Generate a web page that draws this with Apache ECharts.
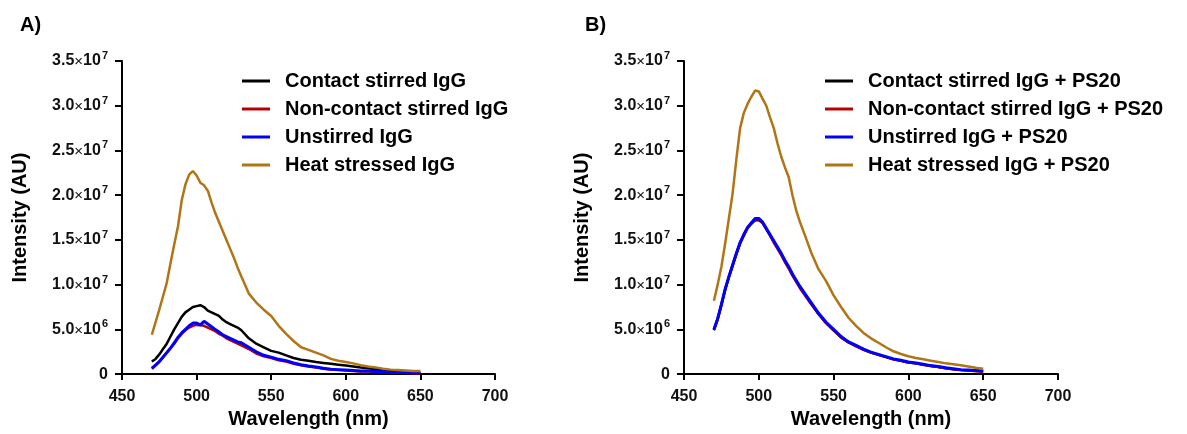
<!DOCTYPE html>
<html>
<head>
<meta charset="utf-8">
<script src="https://cdn.jsdelivr.net/npm/echarts@6/dist/echarts.min.js"></script>
<style>
html,body{margin:0;padding:0;background:#fff;}
#chart{width:1187px;height:434px;}
</style>
</head>
<body>
<div id="chart"></div>
<script>
// Wavelength (nm)
const wavelength = [470,472.5,475,477.5,480,482.5,485,487.5,490,492.5,495,497.5,500,502.5,505,507.5,510,512.5,515,517.5,520,522.5,525,527.5,530,
  535,540,545,550,555,560,565,570,575,580,585,590,595,600,605,610,615,620,625,630,635,640,645,650];

// Panel A (values in units of 1e7)
const contactA = [0.14,0.17,0.22,0.28,0.34,0.42,0.50,0.57,0.64,0.69,0.72,0.75,0.76,0.77,0.75,0.71,0.69,0.67,0.65,0.61,0.58,0.56,0.54,0.52,0.49,
  0.40,0.34,0.30,0.26,0.24,0.21,0.18,0.16,0.15,0.135,0.125,0.115,0.105,0.095,0.085,0.075,0.065,0.055,0.045,0.04,0.035,0.025,0.02,0.015];
const nonContactA = [0.07,0.10,0.14,0.19,0.24,0.29,0.34,0.40,0.45,0.49,0.52,0.54,0.55,0.545,0.54,0.52,0.50,0.48,0.45,0.43,0.40,0.38,0.36,0.34,0.32,
  0.28,0.23,0.20,0.18,0.155,0.14,0.115,0.10,0.085,0.075,0.06,0.05,0.045,0.04,0.035,0.03,0.03,0.025,0.02,0.02,0.015,0.015,0.01,0.01];
const unstirredA = [0.06,0.10,0.14,0.19,0.24,0.29,0.35,0.41,0.46,0.50,0.54,0.57,0.57,0.55,0.59,0.56,0.53,0.50,0.47,0.44,0.42,0.40,0.38,0.36,0.35,
  0.30,0.25,0.21,0.19,0.165,0.15,0.125,0.105,0.09,0.08,0.065,0.055,0.05,0.045,0.04,0.035,0.035,0.03,0.025,0.02,0.02,0.015,0.015,0.015];
const heatA = [0.44,0.58,0.72,0.87,1.02,1.24,1.45,1.65,1.94,2.12,2.23,2.27,2.22,2.14,2.11,2.05,1.92,1.80,1.70,1.60,1.50,1.40,1.30,1.19,1.09,
  0.90,0.80,0.72,0.65,0.54,0.45,0.37,0.30,0.27,0.24,0.21,0.17,0.15,0.135,0.12,0.10,0.085,0.075,0.06,0.05,0.045,0.04,0.035,0.035];

// Panel B (values in units of 1e7)
const contactB = [0.49,0.61,0.77,0.94,1.08,1.21,1.34,1.46,1.55,1.63,1.68,1.72,1.72,1.69,1.62,1.55,1.48,1.41,1.34,1.26,1.19,1.11,1.04,0.97,0.91,
  0.79,0.67,0.57,0.49,0.41,0.355,0.315,0.275,0.24,0.215,0.19,0.165,0.15,0.13,0.12,0.105,0.09,0.08,0.065,0.055,0.045,0.04,0.035,0.03];
const nonContactB = [0.50,0.62,0.78,0.95,1.09,1.22,1.35,1.47,1.56,1.64,1.69,1.73,1.73,1.69,1.62,1.55,1.47,1.40,1.33,1.25,1.18,1.10,1.03,0.96,0.90,
  0.78,0.67,0.57,0.49,0.41,0.355,0.31,0.27,0.24,0.215,0.19,0.165,0.15,0.13,0.12,0.105,0.09,0.08,0.065,0.055,0.045,0.04,0.035,0.03];
const unstirredB = [0.50,0.62,0.78,0.95,1.09,1.22,1.35,1.47,1.56,1.64,1.69,1.74,1.74,1.70,1.63,1.56,1.49,1.42,1.35,1.27,1.20,1.12,1.05,0.98,0.92,
  0.80,0.68,0.58,0.50,0.42,0.36,0.32,0.28,0.245,0.22,0.195,0.17,0.155,0.135,0.125,0.11,0.095,0.085,0.07,0.06,0.05,0.045,0.04,0.035];
const heatB = [0.82,1.00,1.20,1.46,1.74,2.02,2.40,2.75,2.92,3.02,3.10,3.17,3.16,3.08,3.00,2.87,2.75,2.58,2.43,2.31,2.20,2.00,1.83,1.70,1.59,
  1.36,1.17,1.04,0.88,0.75,0.63,0.54,0.46,0.40,0.35,0.30,0.255,0.225,0.20,0.18,0.165,0.15,0.135,0.12,0.11,0.10,0.085,0.07,0.06];

const namesA = ['Contact stirred IgG','Non-contact stirred IgG','Unstirred IgG','Heat stressed IgG'];
const namesB = ['Contact stirred IgG + PS20','Non-contact stirred IgG + PS20','Unstirred IgG + PS20','Heat stressed IgG + PS20'];
const colors = ['#000000','#B80000','#0000FF','#B07515'];

// Y tick labels: mantissa and exponent
const yTickMantissa = ['0','5.0','1.0','1.5','2.0','2.5','3.0','3.5'];
const yTickExp = ['','6','7','7','7','7','7','7'];
const xTicks = [450,500,550,600,650,700];

const FONT = '"Liberation Sans", Arial, sans-serif';
const SCALE = 1e7;

function pairs(arr){ return wavelength.map((w,i)=>[w, arr[i]*SCALE]); }

function yFmt(v){
  const i = Math.round(v/5e6);
  if (yTickMantissa[i] === '0') return '{m|0}';
  return '{m|' + yTickMantissa[i] + '}{x|×}{m|10}{e|' + yTickExp[i] + '}';
}

const yRich = {
  m:{fontFamily:FONT,fontWeight:'bold',fontSize:16,color:'#111'},
  x:{fontFamily:FONT,fontSize:15,color:'#111',padding:[2,0,0,0]},
  e:{fontFamily:FONT,fontWeight:'bold',fontSize:11,color:'#111',padding:[0,0,10,1]}
};

function xAxisCfg(idx){
  return {
    type:'value', gridIndex:idx, min:450, max:700, interval:50,
    name:'Wavelength (nm)', nameLocation:'middle', nameGap:26,
    nameTextStyle:{fontFamily:FONT,fontWeight:'bold',fontSize:20,color:'#000'},
    axisLine:{lineStyle:{color:'#000',width:2}},
    axisTick:{show:true,length:6,lineStyle:{color:'#000',width:2}},
    axisLabel:{fontFamily:FONT,fontWeight:'bold',fontSize:16,color:'#111',margin:14,
      formatter:(v)=> xTicks.indexOf(v) >= 0 ? String(v) : ''},
    splitLine:{show:false}
  };
}
function yAxisCfg(idx){
  return {
    type:'value', gridIndex:idx, min:0, max:3.5e7, interval:5e6,
    name:'Intensity (AU)', nameLocation:'middle', nameGap:92,
    nameTextStyle:{fontFamily:FONT,fontWeight:'bold',fontSize:20,color:'#000'},
    axisLine:{show:true,lineStyle:{color:'#000',width:2}},
    axisTick:{show:true,length:7,lineStyle:{color:'#000',width:2}},
    axisLabel:{formatter:yFmt,rich:yRich,margin:14},
    splitLine:{show:false}
  };
}

function seriesFor(names, datas, idx){
  return names.map((n,i)=>({
    name:n, type:'line', xAxisIndex:idx, yAxisIndex:idx,
    data:pairs(datas[i]), showSymbol:false, symbol:'none', smooth:false,
    lineStyle:{color:colors[i], width: i===2 ? 3 : 2.5},
    itemStyle:{color:colors[i]},
    z: 2+i, animation:false
  }));
}

function legendCfg(names, left){
  return {
    orient:'vertical', left:left, top:64, data:names,
    icon:'rect', itemWidth:28, itemHeight:3, itemGap:4,
    textStyle:{fontFamily:FONT,fontWeight:'bold',fontSize:20,color:'#000',lineHeight:24,padding:[0,0,0,10]},
    selectedMode:false
  };
}

const chart = echarts.init(document.getElementById('chart'), null, {renderer:'canvas'});
chart.setOption({
  animation:false,
  backgroundColor:'#fff',
  color:colors,
  title:[
    {text:'A)', left:15, top:10, textStyle:{fontFamily:FONT,fontWeight:'bold',fontSize:20,color:'#000'}},
    {text:'B)', left:580, top:10, textStyle:{fontFamily:FONT,fontWeight:'bold',fontSize:20,color:'#000'}}
  ],
  grid:[
    {left:122, right:692, top:61, bottom:59, containLabel:false},
    {left:684, right:129, top:61, bottom:59, containLabel:false}
  ],
  xAxis:[xAxisCfg(0), xAxisCfg(1)],
  yAxis:[yAxisCfg(0), yAxisCfg(1)],
  legend:[legendCfg(namesA, 237), legendCfg(namesB, 820)],
  series:[].concat(
    seriesFor(namesA,[contactA,nonContactA,unstirredA,heatA],0),
    seriesFor(namesB,[contactB,nonContactB,unstirredB,heatB],1)
  )
});
</script>
</body>
</html>
